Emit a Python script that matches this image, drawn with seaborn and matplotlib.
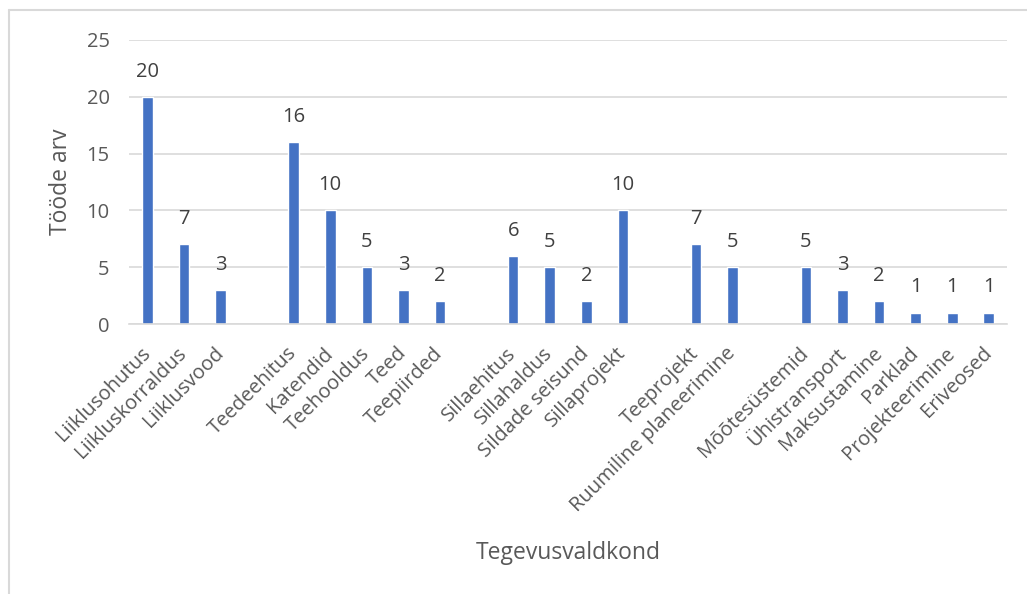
import matplotlib
matplotlib.use('Agg')
import matplotlib.pyplot as plt
import pandas as pd
import seaborn as sns
import numpy as np

# categories in chart order; blank entries are the gaps between groups
categories = ['Liiklusohutus', 'Liikluskorraldus', 'Liiklusvood', ' ',
              'Teedeehitus', 'Katendid', 'Teehooldus', 'Teed', 'Teepiirded', '  ',
              'Sillaehitus', 'Sillahaldus', 'Sildade seisund', 'Sillaprojekt', '   ',
              'Teeprojekt', 'Ruumiline planeerimine', '    ',
              'Mõõtesüstemid', 'Ühistransport', 'Maksustamine', 'Parklad',
              'Projekteerimine', 'Eriveosed']
counts = [20, 7, 3, np.nan,
          16, 10, 5, 3, 2, np.nan,
          6, 5, 2, 10, np.nan,
          7, 5, np.nan,
          5, 3, 2, 1, 1, 1]
y_ticks = [0, 5, 10, 15, 20, 25]

sns.set_theme(style='white')
plt.rcParams['font.family'] = ['Open Sans', 'DejaVu Sans']

df = pd.DataFrame({'Tegevusvaldkond': categories, 'Tööde arv': counts})

fig = plt.figure(figsize=(10.27, 5.94), dpi=100)
ax = fig.add_axes([0.1256, 0.4545, 0.855, 0.4782])

sns.barplot(data=df, x='Tegevusvaldkond', y='Tööde arv', order=categories,
            color='#4472C4', saturation=1, width=0.29, ax=ax)

ax.set_ylim(0, 25)
ax.set_xlim(-0.5, len(categories) - 0.5)
ax.set_yticks(y_ticks)
ax.yaxis.grid(True, color='#d9d9d9', linewidth=1.2)
ax.set_axisbelow(True)
for s in ['top', 'right', 'left']:
    ax.spines[s].set_visible(False)
ax.spines['bottom'].set_color('#d9d9d9')
ax.spines['bottom'].set_linewidth(1.2)
ax.tick_params(axis='both', length=0, colors='#595959', labelsize=14.5)
ax.tick_params(axis='y', pad=14)
plt.setp(ax.get_xticklabels(), rotation=45, ha='right', va='center',
         rotation_mode='anchor')
ax.tick_params(axis='x', pad=19)

ax.bar_label(ax.containers[0], fmt='%d', padding=11, fontsize=14.5, color='#404040')

ax.set_xlabel('Tegevusvaldkond', fontsize=16.5, color='#595959', labelpad=18)
ax.set_ylabel('Tööde arv', fontsize=16.5, color='#595959', labelpad=10)

# chart area border (top and left edge visible)
fig.add_artist(plt.Line2D([0.0087, 1.0], [0.983, 0.983], color='#d9d9d9', lw=1.5,
                          transform=fig.transFigure))
fig.add_artist(plt.Line2D([0.0087, 0.0087], [0.0, 0.983], color='#d9d9d9', lw=1.5,
                          transform=fig.transFigure))

fig.savefig('out.png', dpi=100)
